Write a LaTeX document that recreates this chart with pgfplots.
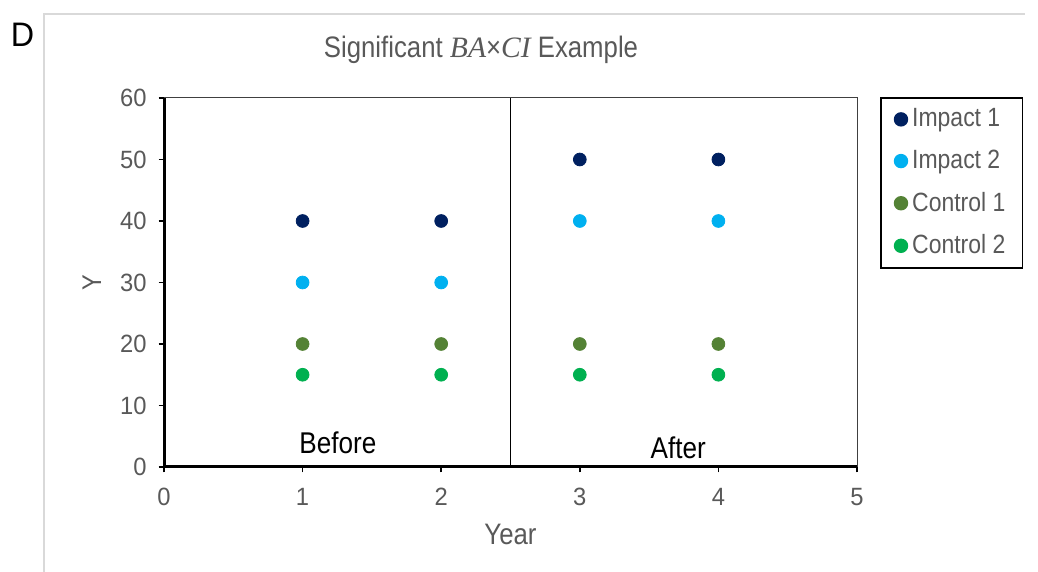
\documentclass[border=0pt]{standalone}
\usepackage{pgfplots}
\pgfplotsset{compat=1.18}
\usepackage{fontspec}
\setmainfont{Liberation Sans}[FakeStretch=0.87]
\newfontfamily\tickfont{Liberation Sans}[FakeStretch=0.95]
\newfontfamily\serifit{Liberation Serif}
\definecolor{imp1}{HTML}{002060}
\definecolor{imp2}{HTML}{00B0F0}
\definecolor{con1}{HTML}{548235}
\definecolor{con2}{HTML}{00B050}
\definecolor{txtgray}{HTML}{595959}
\definecolor{framegray}{HTML}{D9D9D9}
\begin{document}
\begin{tikzpicture}
\useasboundingbox (0,0) rectangle (519pt,286pt);
\draw[framegray, line width=1pt] (22pt,0pt) -- (22pt,279pt) -- (512.5pt,279pt);
\node[font=\tickfont\fontsize{17}{19}\selectfont] at (11.3pt,268.5pt) {D};
\node[font=\fontsize{14.8}{17}\selectfont, text=txtgray] at (240.5pt,261pt) {Significant {\serifit\itshape BA}×{\serifit\itshape CI} Example};
\begin{axis}[
  at={(82pt,52.5pt)}, anchor=south west,
  scale only axis, width=346.5pt, height=184.5pt,
  xmin=0, xmax=5, ymin=0, ymax=60,
  xtick={0,1,2,3,4,5}, ytick={0,10,20,30,40,50,60},
  axis x line*=bottom, axis y line*=left,
  axis line style={black, line width=1.5pt},
  tick align=outside, major tick length=2.7pt,
  tick style={black, line width=0.8pt},
  xtick pos=bottom, ytick pos=left,
  /pgf/number format/assume math mode=true,
  ticklabel style={font=\tickfont\fontsize{12.5}{14}\selectfont, text=txtgray},
  xticklabel style={yshift=-4.5pt},
  yticklabel style={xshift=-2.5pt},
  xlabel={Year}, ylabel={Y},
  xlabel style={at={(axis description cs:0.5,-0.1816)}, anchor=center, font=\fontsize{14.8}{16}\selectfont, text=txtgray},
  ylabel style={at={(axis description cs:-0.104,0.5)}, anchor=center, font=\fontsize{13.5}{16}\selectfont, text=txtgray},
  legend style={at={(1,1)}, anchor=north west, xshift=11.5pt, yshift=0.5pt, draw=black, line width=0.8pt,
    font=\fontsize{13.2}{15}\selectfont, text=txtgray, row sep=6.2pt, inner xsep=6.5pt, inner ysep=3.5pt},
  legend cell align=left,
  legend image code/.code={\fill[#1] (0.15cm,0) circle (3.2pt);},
  clip=false,
]
\addplot[only marks, mark=*, mark size=3.2pt, color=imp1, draw=imp1, fill=imp1] coordinates {(1,40) (2,40) (3,50) (4,50)};
\addlegendentry{Impact 1}
\addplot[only marks, mark=*, mark size=3.2pt, color=imp2, draw=imp2, fill=imp2] coordinates {(1,30) (2,30) (3,40) (4,40)};
\addlegendentry{Impact 2}
\addplot[only marks, mark=*, mark size=3.2pt, color=con1, draw=con1, fill=con1] coordinates {(1,20) (2,20) (3,20) (4,20)};
\addlegendentry{Control 1}
\addplot[only marks, mark=*, mark size=3.2pt, color=con2, draw=con2, fill=con2] coordinates {(1,15) (2,15) (3,15) (4,15)};
\addlegendentry{Control 2}
\draw[black!75, line width=0.5pt] (rel axis cs:0,1) -- (rel axis cs:1,1) -- (rel axis cs:1,0);
\draw[black, line width=0.5pt] (axis cs:2.5,0) -- (axis cs:2.5,60);
\node[font=\fontsize{15}{17}\selectfont] at (axis cs:1.255,3.9) {Before};
\node[font=\fontsize{15}{17}\selectfont] at (axis cs:3.71,3.1) {After};
\end{axis}
\end{tikzpicture}
\end{document}
